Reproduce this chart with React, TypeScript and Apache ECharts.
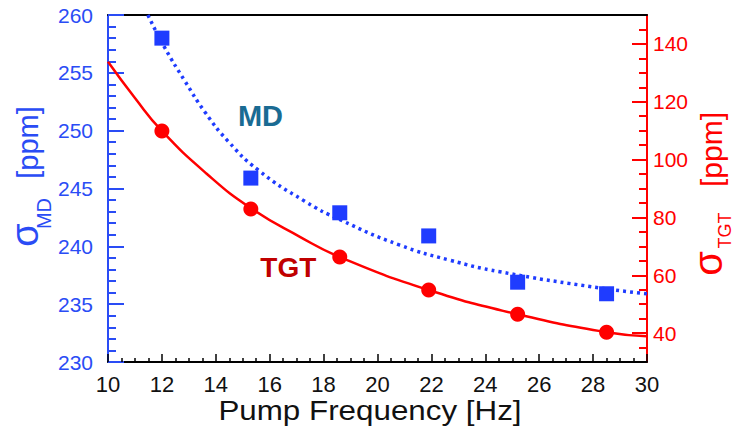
import React, { useEffect, useRef } from "react";
import * as echarts from "echarts";

// Measured points
const freqs = [12.0, 15.3, 18.6, 21.9, 25.2, 28.5];
const mdValues = [258.0, 245.9, 242.9, 240.9, 236.9, 235.9];
const tgtValues = [109.9, 82.9, 66.3, 54.9, 46.5, 40.3];

// Fit curves
const mdFitX = [11.48, 12.1, 12.85, 13.6, 14.45, 15.57, 17.3, 18.61, 20.83, 22.69, 24.54, 28.26, 30];
const mdFitY = [260.0, 257.2, 254.3, 251.6, 249.1, 246.6, 243.9, 242.3, 240.1, 238.8, 237.8, 236.4, 235.9];
const tgtFitX = [10, 11, 12, 13.65, 15.3, 17.12, 18.6, 21.9, 25.2, 28.5, 30];
const tgtFitY = [133.85, 121.3, 109.9, 95.2, 83.2, 73.3, 66.3, 54.9, 46.5, 40.3, 38.9];

// Tick labels
const rightMajorTicks = [40, 60, 80, 100, 120, 140];
const rightMinorTicks = [35, 45, 50, 55, 65, 70, 75, 85, 90, 95, 105, 110, 115, 125, 130, 135, 145];

const FONT = "Liberation Sans, Arial, Helvetica, sans-serif";
const BLUE_AXIS = "#2a4cf5";
const BLUE_MARK = "#1f3cff";
const RED = "#ff0000";

export default function App() {
  const ref = useRef<HTMLDivElement>(null);
  useEffect(() => {
    if (!ref.current) return;
    const chart = echarts.init(ref.current, undefined, { renderer: "svg" });
    const zip = (xs: number[], ys: number[]) => xs.map((x, i) => [x, ys[i]]);
    const option: any = {
      animation: false,
      backgroundColor: "#ffffff",
      grid: { left: 108, right: 88, top: 15, bottom: 67, containLabel: false },
      xAxis: [
        {
          type: "value",
          min: 10,
          max: 30,
          interval: 2,
          position: "bottom",
          axisLine: { show: true, onZero: false, lineStyle: { color: "#000", width: 2 } },
          axisTick: { show: true, inside: true, length: 8, lineStyle: { color: "#000", width: 1.5 } },
          minorTick: { show: true, splitNumber: 4, length: 4, lineStyle: { color: "#000", width: 1.5 } },
          splitLine: { show: false },
          axisLabel: { color: "#111", fontSize: 22, margin: 11, fontFamily: FONT },
        },
        {
          type: "value",
          min: 10,
          max: 30,
          position: "top",
          axisLine: { show: true, onZero: false, lineStyle: { color: "#000", width: 2 } },
          axisTick: { show: false },
          axisLabel: { show: false },
          splitLine: { show: false },
        },
      ],
      yAxis: [
        {
          type: "value",
          min: 230,
          max: 260,
          interval: 5,
          position: "left",
          axisLine: { show: true, onZero: false, lineStyle: { color: BLUE_AXIS, width: 2 } },
          axisTick: { show: true, inside: true, length: 16, lineStyle: { color: BLUE_AXIS, width: 2 } },
          minorTick: { show: true, splitNumber: 5, length: 8, lineStyle: { color: BLUE_AXIS, width: 2 } },
          splitLine: { show: false },
          axisLabel: { color: BLUE_AXIS, fontSize: 21, margin: 15, fontFamily: FONT },
        },
        {
          type: "value",
          min: 30,
          max: 150,
          position: "right",
          axisLine: { show: true, onZero: false, lineStyle: { color: RED, width: 2 } },
          axisTick: { show: true, inside: true, length: 15, customValues: rightMajorTicks, lineStyle: { color: RED, width: 2 } },
          splitLine: { show: false },
          axisLabel: { color: RED, fontSize: 21, margin: 6, fontFamily: FONT, customValues: rightMajorTicks },
        },
        {
          type: "value",
          min: 30,
          max: 150,
          position: "right",
          axisLine: { show: false },
          axisTick: { show: true, inside: true, length: 8, customValues: rightMinorTicks, lineStyle: { color: RED, width: 2 } },
          splitLine: { show: false },
          axisLabel: { show: false },
        },
      ],
      series: [
        {
          type: "line",
          xAxisIndex: 0,
          yAxisIndex: 0,
          data: zip(mdFitX, mdFitY),
          smooth: true,
          showSymbol: false,
          symbol: "none",
          lineStyle: { color: BLUE_MARK, width: 3.5, type: [3, 4], cap: "butt" },
          z: 2,
        },
        {
          type: "line",
          xAxisIndex: 0,
          yAxisIndex: 1,
          data: zip(tgtFitX, tgtFitY),
          smooth: true,
          showSymbol: false,
          symbol: "none",
          lineStyle: { color: RED, width: 2.5 },
          z: 2,
        },
        {
          type: "scatter",
          xAxisIndex: 0,
          yAxisIndex: 0,
          data: zip(freqs, mdValues),
          symbol: "rect",
          symbolSize: 15,
          itemStyle: { color: BLUE_MARK, opacity: 1 },
          z: 3,
        },
        {
          type: "scatter",
          xAxisIndex: 0,
          yAxisIndex: 1,
          data: zip(freqs, tgtValues),
          symbol: "circle",
          symbolSize: 15,
          itemStyle: { color: RED, opacity: 1 },
          z: 3,
        },
      ],
      graphic: [
        { type: "text", x: 260.5, y: 116, style: { text: "MD", fill: "#1a6b93", font: `bold 29px ${FONT}`, align: "center", verticalAlign: "middle" } },
        { type: "text", x: 288.3, y: 267.5, style: { text: "TGT", fill: "#c00000", font: `bold 28px ${FONT}`, align: "center", verticalAlign: "middle" } },
        { type: "text", x: 370, y: 410, scaleX: 1.12, style: { text: "Pump Frequency [Hz]", fill: "#111", font: `28px ${FONT}`, align: "center", verticalAlign: "middle" } },
        // left axis name
        { type: "text", x: 25, y: 235, rotation: Math.PI / 2, style: { text: "σ", fill: BLUE_AXIS, font: `38px ${FONT}`, align: "center", verticalAlign: "middle" } },
        { type: "text", x: 44, y: 213.5, rotation: Math.PI / 2, style: { text: "MD", fill: BLUE_AXIS, font: `20px ${FONT}`, align: "center", verticalAlign: "middle" } },
        { type: "text", x: 27.5, y: 142.5, rotation: Math.PI / 2, style: { text: "[ppm]", fill: BLUE_AXIS, font: `29px ${FONT}`, align: "center", verticalAlign: "middle" } },
        // right axis name
        { type: "text", x: 708, y: 263.5, rotation: Math.PI / 2, style: { text: "σ", fill: RED, font: `40px ${FONT}`, align: "center", verticalAlign: "middle" } },
        { type: "text", x: 724.5, y: 230.5, rotation: Math.PI / 2, style: { text: "TGT", fill: RED, font: `18px ${FONT}`, align: "center", verticalAlign: "middle" } },
        { type: "text", x: 711, y: 149.5, rotation: Math.PI / 2, style: { text: "[ppm]", fill: RED, font: `30px ${FONT}`, align: "center", verticalAlign: "middle" } },
      ],
    };
    chart.setOption(option);
    return () => chart.dispose();
  }, []);
  return <div ref={ref} style={{ position: "fixed", left: 0, top: 0, width: 735, height: 429 }} />;
}
